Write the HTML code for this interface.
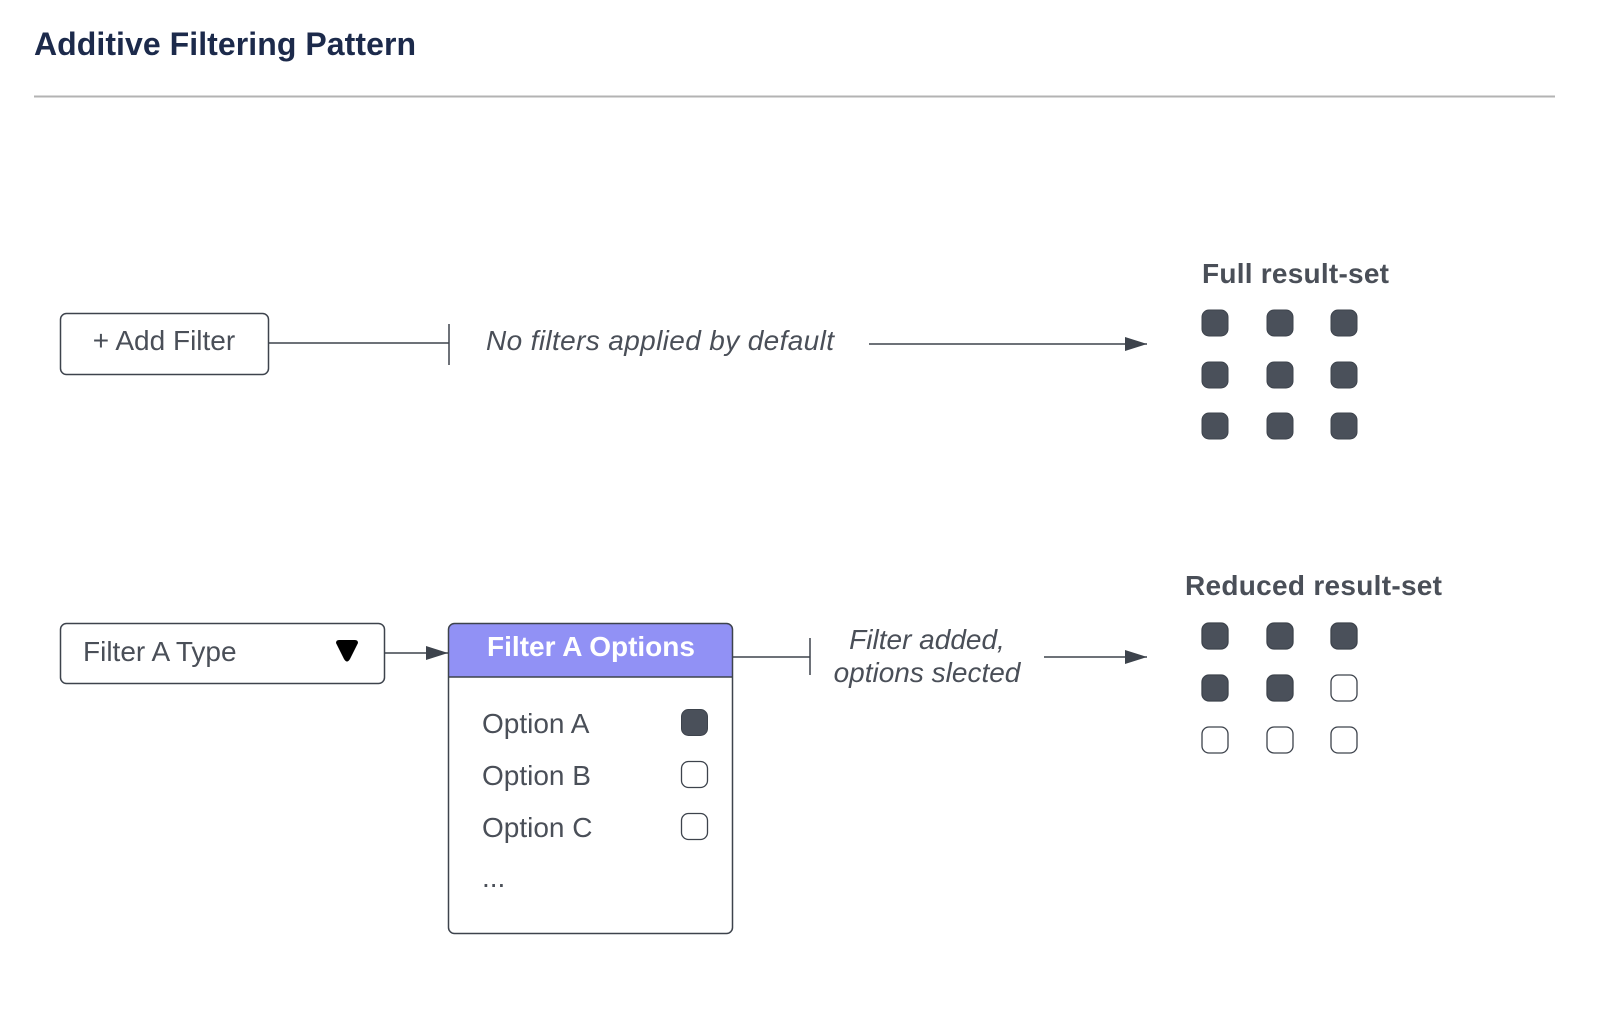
<!DOCTYPE html>
<html><head><meta charset="utf-8"><style>
html,body{margin:0;padding:0;background:#fff;}
svg{display:block;}
text{font-family:"Liberation Sans",sans-serif;}
</style></head><body>
<svg width="1600" height="1016" viewBox="0 0 1600 1016" xmlns="http://www.w3.org/2000/svg">
<defs>
<marker id="ah" markerWidth="22" markerHeight="14" refX="22" refY="7" orient="auto" markerUnits="userSpaceOnUse">
<path d="M0,0 L22,7 L0,14 Z" fill="#3d434c"/>
</marker>
</defs>
<text x="34" y="55" font-size="32" font-weight="bold" fill="#1c2a4b" textLength="382">Additive Filtering Pattern</text>
<line x1="34" y1="96.5" x2="1555" y2="96.5" stroke="#b3b3b3" stroke-width="2"/>

<!-- row 1 -->
<rect x="60.5" y="313.5" width="208" height="61" rx="6" fill="#fff" stroke="#3d434c" stroke-width="1.5"/>
<text x="164" y="350" font-size="28" fill="#4a4f58" text-anchor="middle">+ Add Filter</text>
<line x1="269" y1="343" x2="449" y2="343" stroke="#3d434c" stroke-width="1.5"/>
<line x1="449" y1="324" x2="449" y2="365" stroke="#3d434c" stroke-width="1.5"/>
<text x="486" y="350" font-size="28" font-style="italic" fill="#4a4f58" textLength="348">No filters applied by default</text>
<line x1="869" y1="344" x2="1147" y2="344" stroke="#3d434c" stroke-width="1.5" marker-end="url(#ah)"/>
<text x="1202" y="283" font-size="28" font-weight="bold" fill="#4a4f58" textLength="187">Full result-set</text>
<g fill="#4a505a" stroke="#3d434c" stroke-width="1">
<rect x="1202" y="310" width="26" height="26" rx="7"/><rect x="1267" y="310" width="26" height="26" rx="7"/><rect x="1331" y="310" width="26" height="26" rx="7"/>
<rect x="1202" y="362" width="26" height="26" rx="7"/><rect x="1267" y="362" width="26" height="26" rx="7"/><rect x="1331" y="362" width="26" height="26" rx="7"/>
<rect x="1202" y="413" width="26" height="26" rx="7"/><rect x="1267" y="413" width="26" height="26" rx="7"/><rect x="1331" y="413" width="26" height="26" rx="7"/>
</g>

<!-- row 2 -->
<rect x="60.5" y="623.5" width="324" height="60" rx="6" fill="#fff" stroke="#3d434c" stroke-width="1.5"/>
<text x="83" y="661" font-size="28" fill="#4a4f58">Filter A Type</text>
<path d="M336,643 Q336,640 339,640 L355,640 Q358,640 358,643 L350,659 Q347,664 344,659 Z" fill="#000"/>
<line x1="385" y1="653" x2="448" y2="653" stroke="#3d434c" stroke-width="1.5" marker-end="url(#ah)"/>

<path d="M448.5,677 L448.5,629 Q448.5,623.5 454,623.5 L727,623.5 Q732.5,623.5 732.5,629 L732.5,677 Z" fill="#9191f5"/>
<rect x="448.5" y="623.5" width="284" height="310" rx="6" fill="none" stroke="#3d434c" stroke-width="1.5"/>
<line x1="448.5" y1="677" x2="732.5" y2="677" stroke="#3d434c" stroke-width="1.5"/>
<text x="591" y="656" font-size="28" font-weight="bold" fill="#fff" text-anchor="middle">Filter A Options</text>
<text x="482" y="733" font-size="28" fill="#4a4f58">Option A</text>
<text x="482" y="785" font-size="28" fill="#4a4f58">Option B</text>
<text x="482" y="837" font-size="28" fill="#4a4f58">Option C</text>
<text x="482" y="887" font-size="28" fill="#4a4f58">...</text>
<rect x="681.5" y="709.5" width="26" height="26" rx="7" fill="#4a505a" stroke="#3d434c"/>
<rect x="681.5" y="761.5" width="26" height="26" rx="7" fill="#fff" stroke="#3d434c" stroke-width="1.3"/>
<rect x="681.5" y="813.5" width="26" height="26" rx="7" fill="#fff" stroke="#3d434c" stroke-width="1.3"/>

<line x1="733" y1="657" x2="810" y2="657" stroke="#3d434c" stroke-width="1.5"/>
<line x1="810" y1="638" x2="810" y2="675" stroke="#3d434c" stroke-width="1.5"/>
<text x="927" y="649" font-size="28" font-style="italic" fill="#4a4f58" text-anchor="middle">Filter added,</text>
<text x="927" y="682" font-size="28" font-style="italic" fill="#4a4f58" text-anchor="middle">options slected</text>
<line x1="1044" y1="657" x2="1147" y2="657" stroke="#3d434c" stroke-width="1.5" marker-end="url(#ah)"/>

<text x="1185" y="595" font-size="28" font-weight="bold" fill="#4a4f58" textLength="257">Reduced result-set</text>
<g stroke="#3d434c" stroke-width="1.3">
<rect x="1202" y="623" width="26" height="26" rx="7" fill="#4a505a"/><rect x="1267" y="623" width="26" height="26" rx="7" fill="#4a505a"/><rect x="1331" y="623" width="26" height="26" rx="7" fill="#4a505a"/>
<rect x="1202" y="675" width="26" height="26" rx="7" fill="#4a505a"/><rect x="1267" y="675" width="26" height="26" rx="7" fill="#4a505a"/><rect x="1331" y="675" width="26" height="26" rx="7" fill="#fff"/>
<rect x="1202" y="727" width="26" height="26" rx="7" fill="#fff"/><rect x="1267" y="727" width="26" height="26" rx="7" fill="#fff"/><rect x="1331" y="727" width="26" height="26" rx="7" fill="#fff"/>
</g>
</svg>
</body></html>
